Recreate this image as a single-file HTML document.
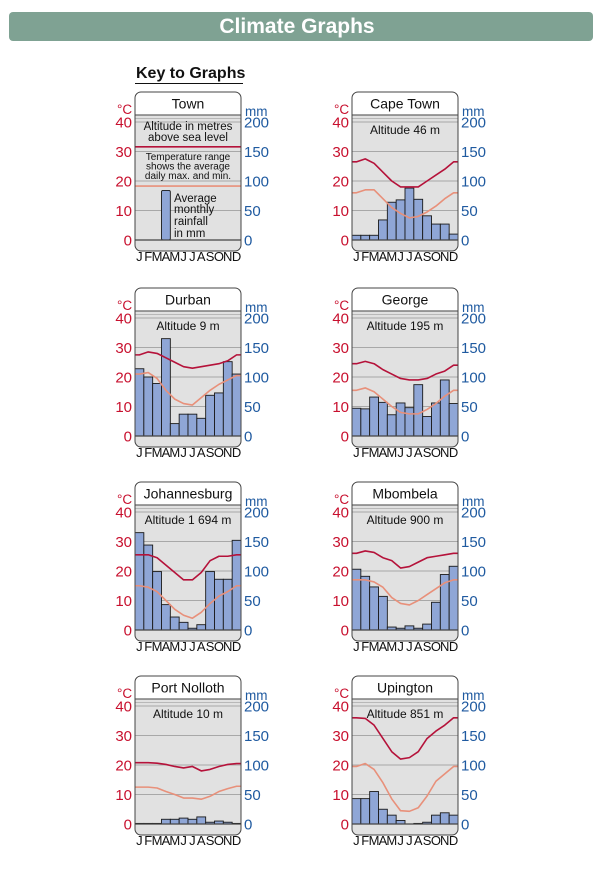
<!DOCTYPE html>
<html><head><meta charset="utf-8"><style>
html,body{margin:0;padding:0;background:#fff;}
svg{display:block;font-family:"Liberation Sans",sans-serif;}
</style></head><body>
<svg id="chart" width="599" height="869" viewBox="0 0 599 869" xmlns="http://www.w3.org/2000/svg">
<rect x="9" y="12" width="584" height="29" rx="4" fill="#7fa293"/>
<text x="297" y="33" text-anchor="middle" font-size="21" font-weight="bold" fill="#fff">Climate Graphs</text>
<text x="136" y="78" font-size="16" font-weight="bold" fill="#111">Key to Graphs</text>
<line x1="135" y1="83.5" x2="243" y2="83.5" stroke="#111" stroke-width="1"/>
<g id="panels"></g>
</svg>
<script>
const months = ["J","F","M","A","M","J","J","A","S","O","N","D"];
const tempTicks = [0,10,20,30,40];
const rainTicks = [0,50,100,150,200];
const towns = ["Cape Town","Durban","George","Johannesburg","Mbombela","Port Nolloth","Upington"];
const altitudes = ["Altitude 46 m","Altitude 9 m","Altitude 195 m","Altitude 1 694 m","Altitude 900 m","Altitude 10 m","Altitude 851 m"];
const rainCapeTown = [8,8,8,34,64,68,88,69,41,27,27,10];
const maxCapeTown = [26.5,27.5,26,23,20,18,18,18,20,22,24,26.5];
const minCapeTown = [16,17,17,14,11,9,7.5,8,9.5,11.5,14,16];
const rainDurban = [114,100,89,165,21,37,37,30,69,73,126,105];
const maxDurban = [27.5,28.5,28,26.5,25,23.5,23,23.5,24,24.5,25.5,27.5];
const minDurban = [21,21.5,19.5,15.5,12.5,11,10.5,13,15.5,17.5,19,20.5];
const rainGeorge = [47,46,66,57,36,56,48,87,33,56,95,55];
const maxGeorge = [24.5,25.3,24.5,22.5,21,19.5,19,19,19.5,21,22,24];
const minGeorge = [15.5,16.3,15,12.5,10,8,7.5,7.5,9,11,13.5,15.5];
const rainJohannesburg = [165,144,99,43,22,13,3,9,99,86,86,152];
const maxJohannesburg = [25.5,25.5,24.5,22,19.5,17,17,19.5,23.5,25,25,25.5];
const minJohannesburg = [15,14.5,13,10,7,5,4,6,9,11.5,13,15];
const rainMbombela = [103,91,73,57,5,3,7,3,10,47,94,108];
const maxMbombela = [26,26.8,26.3,24.5,23.5,21,21.5,23,24.5,25,25.5,26];
const minMbombela = [17,17,16.3,14.5,11,9,8.5,10,12,14,16,17];
const rainPortNolloth = [1,1,1,8,8,10,8,12,3,5,3,1];
const maxPortNolloth = [20.8,20.8,20.6,20.2,19.5,19,19.5,18,18.5,19.5,20.2,20.5];
const minPortNolloth = [12.5,12.5,12.2,11,10,8.8,8.8,8.4,9.4,11,12,12.8];
const rainUpington = [43,43,55,25,15,6,0,1,3,15,19,15];
const maxUpington = [36,35.8,33.5,29,24.5,22,22.5,24.5,29,31.5,33.5,36];
const minUpington = [19.5,20.5,18.5,14,8.5,4.5,4.3,5.5,9.5,14.5,17,19.5];
const rainSets = [rainCapeTown,rainDurban,rainGeorge,rainJohannesburg,rainMbombela,rainPortNolloth,rainUpington];
const maxSets = [maxCapeTown,maxDurban,maxGeorge,maxJohannesburg,maxMbombela,maxPortNolloth,maxUpington];
const minSets = [minCapeTown,minDurban,minGeorge,minJohannesburg,minMbombela,minPortNolloth,minUpington];
const keyRain = 84, keyMax = 31.6, keyMin = 18.3, keyMonth = 3;

const NS = "http://www.w3.org/2000/svg";
const root = document.getElementById("panels");
const W = 106, PX = 2.95;
function el(tag, attrs, parent, txt){
  const e = document.createElementNS(NS, tag);
  for (const k in attrs) e.setAttribute(k, attrs[k]);
  if (txt !== undefined) e.textContent = txt;
  (parent||root).appendChild(e);
  return e;
}
function panel(x0, top, name, slug){
  const g = el("g", {});
  
  
  const xS = i => x0 + i * W / 12;
  const yT = t => top + 148 - t * PX;
  const yR = r => yT(r / 5);
  const base = yT(0);
  const bg = el("path", {d:`M${x0} ${top+23} H${x0+W} V${top+153} Q${x0+W} ${top+159} ${x0+W-6} ${top+159} H${x0+6} Q${x0} ${top+159} ${x0} ${top+153} Z`, fill:"#e1e1e1", stroke:"none"}, g);
  
  
  el("line", {x1:x0, y1:top+26.5, x2:x0+W, y2:top+26.5, stroke:"#b8b8b8", "stroke-width":1}, g);
  tempTicks.forEach(t => { if (t > 0) el("line", {x1:x0, y1:yT(t), x2:x0+W, y2:yT(t), stroke:"#a8a8a8", "stroke-width":1}, g); });
  const tb = el("path", {d:`M${x0} ${top+23} V${top+6} Q${x0} ${top} ${x0+6} ${top} H${x0+W-6} Q${x0+W} ${top} ${x0+W} ${top+6} V${top+23} Z`, fill:"#fff"}, g);
  
  
  const tt = el("text", {x:x0+W/2, y:top+16.5, "text-anchor":"middle", "font-size":14, fill:"#111"}, g, name);
  
  
  el("line", {x1:x0, y1:top+23, x2:x0+W, y2:top+23, stroke:"#666", "stroke-width":1.2}, g);
  const cl = el("text", {x:x0-18, y:top+22, "font-size":13.5, fill:"#c8102e"}, g, "°C");
  
  
  const ml = el("text", {x:x0+W+4, y:top+24, "font-size":13.5, fill:"#1f5aa0"}, g, "mm");
  
  
  tempTicks.forEach(t => {
    const l = el("text", {x:x0-3, y:yT(t)+5.5, "text-anchor":"end", "font-size":15, fill:"#c8102e"}, g, String(t));
    
    
  });
  rainTicks.forEach(r => {
    const l = el("text", {x:x0+W+3, y:yR(r)+5.5, "font-size":15, fill:"#1f5aa0"}, g, String(r));
    
    
  });
  months.forEach((m, i) => {
    const l = el("text", {x:xS(i)+W/24, y:top+169, "text-anchor":"middle", "font-size":13, fill:"#111"}, g, m);
    
    
  });
  return {g, xS, yT, yR, base};
}
function finish(p, x0, top){
  el("line", {x1:x0, y1:p.base, x2:x0+W, y2:p.base, stroke:"#444", "stroke-width":1.2}, p.g);
  const o = el("rect", {x:x0, y:top, width:W, height:159, rx:6, fill:"none", stroke:"#444", "stroke-width":1}, p.g);
  
  
}
function tempLine(p, vals, x0, color, nm){
  const pts = [[x0, p.yT(vals[0])]];
  vals.forEach((v, i) => pts.push([p.xS(i) + W/24, p.yT(v)]));
  pts.push([x0 + W, p.yT(vals[11])]);
  const l = el("polyline", {points: pts.map(q => q.join(",")).join(" "), fill:"none", stroke:color, "stroke-width":1.6, "stroke-linejoin":"round"}, p.g);
  
  
}
function bars(p, vals){
  vals.forEach((v, i) => {
    const y = p.yR(v);
    const b = el("rect", {x:p.xS(i), y:y, width:W/12, height:p.base - y, fill:"#8fa6d6", stroke:"#1a1a1a", "stroke-width":0.9}, p.g);
    
    
  });
}
(function(){
  const x0 = 135, top = 92;
  const p = panel(x0, top, "Town", "key");
  tempLine(p, new Array(12).fill(keyMax), x0, "#b5123a", "key-max-line");
  tempLine(p, new Array(12).fill(keyMin), x0, "#e8907a", "key-min-line");
  const y = p.yR(keyRain);
  const b = el("rect", {x:p.xS(keyMonth), y:y, width:W/12, height:p.base-y, rx:1.5, fill:"#8fa6d6", stroke:"#1a1a1a", "stroke-width":0.9}, p.g);
  
  
  const lines = [["Altitude in metres",x0+53,130,11.5,"middle"],["above sea level",x0+53,141,11.5,"middle"],
    ["Temperature range",x0+53,160,10,"middle"],["shows the average",x0+53,169.5,10,"middle"],["daily max. and min.",x0+53,179,10,"middle"],
    ["Average",x0+39,202,11.5,"start"],["monthly",x0+39,213,11.5,"start"],["rainfall",x0+39,225,11.5,"start"],["in mm",x0+39,237,11.5,"start"]];
  lines.forEach(L => {
    const t = el("text", {x:L[1], y:L[2], "font-size":L[3], "text-anchor":L[4], fill:"#111"}, p.g, L[0]);
    
    
  });
  finish(p, x0, top);
})();
const rowTops = [92, 288, 482, 676];
towns.forEach((name, k) => {
  const idx = k + 1;
  const x0 = idx % 2 === 0 ? 135 : 352;
  const top = rowTops[Math.floor(idx / 2)];
  const slug = name.toLowerCase().replace(/ /g, "-");
  const p = panel(x0, top, name, slug);
  const a = el("text", {x:x0+W/2, y:top+42, "text-anchor":"middle", "font-size":12, fill:"#111"}, p.g, altitudes[k]);
  
  
  bars(p, rainSets[k]);
  tempLine(p, maxSets[k], x0, "#b5123a", "max-temp-line");
  tempLine(p, minSets[k], x0, "#e8907a", "min-temp-line");
  finish(p, x0, top);
});
</script>
</body></html>
